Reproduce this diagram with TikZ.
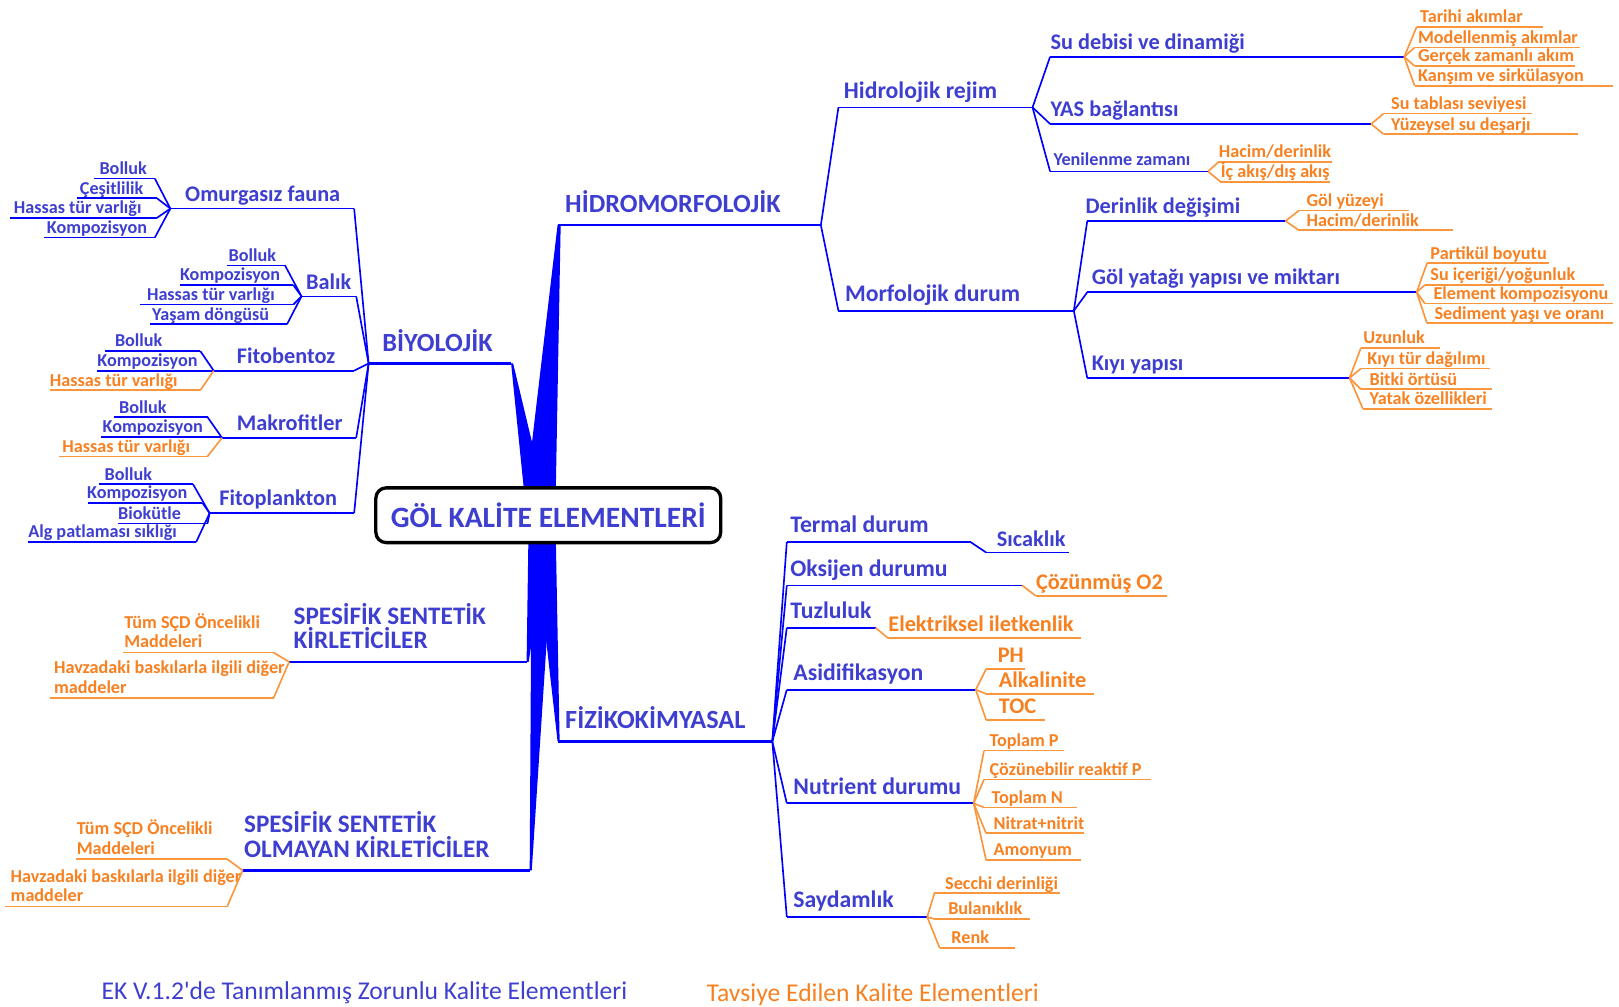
\documentclass[tikz,border=0pt]{standalone}
\usepackage{fontspec}
\setmainfont{Carlito}
\definecolor{bluetext}{RGB}{62,62,208}
\definecolor{blueline}{RGB}{0,0,255}
\definecolor{orangetext}{RGB}{247,128,32}
\definecolor{orangeline}{RGB}{252,150,60}

% topic: name, line style, text style, x1, x2, y, text x, text
\newcommand{\mmtopic}[8]{%
  \coordinate (#1-l) at (#4,#6);
  \coordinate (#1-r) at (#5,#6);
  \draw[#2] (#1-l) -- (#1-r);
  \node[#3,anchor=base west] (#1) at (#7,#6) {#8};
}
% same, text on two lines
\newcommand{\mmtopicii}[8]{%
  \coordinate (#1-l) at (#4,#6);
  \coordinate (#1-r) at (#5,#6);
  \draw[#2] (#1-l) -- (#1-r);
  \node[#3,align=left,anchor=south west] (#1) at (#7,#6) {#8};
}

\begin{document}
\begin{tikzpicture}[x=0.5pt,y=-0.5pt,
  bluelink/.style={draw=blueline,line width=0.8pt},
  mainlink/.style={draw=blueline,line width=1.1pt},
  orangelink/.style={draw=orangeline,line width=0.8pt},
  taper/.style={fill=blueline},
  lvlone/.style={font=\fontsize{12.7}{12}\selectfont\bfseries,text=bluetext,inner sep=0pt,yshift=6pt},
  lvlspec/.style={lvlone,font=\fontsize{12.2}{12}\selectfont\bfseries},
  lvltwo/.style={font=\fontsize{11.5}{12}\selectfont\bfseries,text=bluetext,inner sep=0pt,yshift=4.5pt},
  lvlthree/.style={font=\fontsize{10.8}{12}\selectfont\bfseries,text=bluetext,inner sep=0pt,yshift=3.5pt},
  smallblue/.style={font=\fontsize{8.8}{10}\selectfont\bfseries,text=bluetext,inner sep=0pt,yshift=3pt},
  leafblue/.style={font=\fontsize{8.8}{9.5}\selectfont\bfseries,text=bluetext,inner sep=0pt,yshift=2pt},
  leaforange/.style={leafblue,text=orangetext},
  leafbig/.style={font=\fontsize{10.8}{12}\selectfont\bfseries,text=orangetext,inner sep=0pt,yshift=3pt},
  leafbigblue/.style={leafbig,text=bluetext},
  titlebox/.style={draw=black,line width=1.6pt,fill=white,rounded corners=5pt,
    minimum width=167pt,minimum height=26.5pt,inner sep=0pt,text=bluetext,
    font=\fontsize{14.3}{16}\selectfont\bfseries},
  legend/.style={font=\fontsize{12.4}{14}\selectfont,inner sep=0pt}]
\useasboundingbox (0,0) rectangle (1568,975);

% main branches
\mmtopic{hidro}{mainlink}{lvlone}{540}{795}{218}{547}{HİDROMORFOLOJİK}
\mmtopic{biyo}{mainlink}{lvlone}{357}{495}{352}{370}{BİYOLOJİK}
\mmtopic{fiz}{mainlink}{lvlone}{540}{748}{718}{547}{FİZİKOKİMYASAL}
\mmtopicii{ssk}{mainlink}{lvlspec}{280}{510}{641}{284}{SPESİFİK SENTETİK\\KİRLETİCİLER}
\mmtopicii{sso}{mainlink}{lvlspec}{235}{513}{843}{236}{SPESİFİK SENTETİK\\OLMAYAN KİRLETİCİLER}

\fill[taper] (508,490) -- (hidro-l) -- ++(3,0) -- (538,490) -- cycle;
\fill[taper] (509,490) -- (biyo-r) -- ++(2,0) -- (530,490) -- cycle;
\fill[taper] (516,505) -- (fiz-l) -- ++(2,0) -- (538,505) -- cycle;
\fill[taper] (512,505) -- (ssk-r) -- ++(2,0) -- (534,505) -- cycle;
\fill[taper] (515,505) -- (sso-r) -- ++(2,0) -- (537,505) -- cycle;

\node[titlebox] (root) at (531,499) {GÖL KALİTE ELEMENTLERİ};

% hidromorfolojik
\mmtopic{hreg}{bluelink}{lvltwo}{812}{1000}{104}{817}{Hidrolojik rejim}
\mmtopic{morf}{bluelink}{lvltwo}{812}{1040}{301}{818}{Morfolojik durum}
\draw[bluelink] (hidro-r) -- (hreg-l);
\draw[bluelink] (hidro-r) -- (morf-l);

\mmtopic{debi}{bluelink}{lvlthree}{1017}{1360}{55}{1017}{Su debisi ve dinamiği}
\mmtopic{yas}{bluelink}{lvlthree}{1017}{1328}{120}{1017}{YAS bağlantısı}
\mmtopic{yenil}{bluelink}{smallblue}{1017}{1170}{166}{1020}{Yenilenme zamanı}
\foreach \n in {debi,yas,yenil} \draw[bluelink] (hreg-r) -- (\n-l);

\mmtopic{tarihi}{orangelink}{leaforange}{1372}{1494}{26}{1375}{Tarihi akımlar}
\mmtopic{model}{orangelink}{leaforange}{1370}{1530}{46}{1373}{Modellenmiş akımlar}
\mmtopic{gercek}{orangelink}{leaforange}{1370}{1525}{64}{1373}{Gerçek zamanlı akım}
\mmtopic{karsim}{orangelink}{leaforange}{1370}{1562}{83}{1373}{Kanşım ve sirkülasyon}
\foreach \n in {tarihi,model,gercek,karsim} \draw[orangelink] (debi-r) -- (\n-l);

\mmtopic{sutab}{orangelink}{leaforange}{1340}{1484}{110}{1347}{Su tablası seviyesi}
\mmtopic{yuzey}{orangelink}{leaforange}{1340}{1528}{130}{1347}{Yüzeysel su deşarjı}
\foreach \n in {sutab,yuzey} \draw[orangelink] (yas-r) -- (\n-l);

\mmtopic{hacim}{orangelink}{leaforange}{1180}{1290}{157}{1180}{Hacim/derinlik}
\mmtopic{icakis}{orangelink}{leaforange}{1182}{1288}{176}{1182}{İç akış/dış akış}
\foreach \n in {hacim,icakis} \draw[orangelink] (yenil-r) -- (\n-l);

\mmtopic{derin}{bluelink}{lvlthree}{1053}{1245}{214}{1051}{Derinlik değişimi}
\mmtopic{yatak}{bluelink}{lvlthree}{1053}{1372}{283}{1057}{Göl yatağı yapısı ve miktarı}
\mmtopic{kiyi}{bluelink}{lvlthree}{1053}{1307}{366}{1057}{Kıyı yapısı}
\foreach \n in {derin,yatak,kiyi} \draw[bluelink] (morf-r) -- (\n-l);

\mmtopic{golyuz}{orangelink}{leaforange}{1258}{1365}{204}{1265}{Göl yüzeyi}
\mmtopic{hacimb}{orangelink}{leaforange}{1258}{1407}{223}{1265}{Hacim/derinlik}
\foreach \n in {golyuz,hacimb} \draw[orangelink] (derin-r) -- (\n-l);

\mmtopic{partikul}{orangelink}{leaforange}{1382}{1500}{255}{1385}{Partikül boyutu}
\mmtopic{suicerik}{orangelink}{leaforange}{1380}{1553}{276}{1385}{Su içeriği/yoğunluk}
\mmtopic{element}{orangelink}{leaforange}{1380}{1562}{294}{1388}{Element kompozisyonu}
\mmtopic{sediment}{orangelink}{leaforange}{1382}{1562}{313}{1389}{Sediment yaşı ve oranı}
\foreach \n in {partikul,suicerik,element,sediment} \draw[orangelink] (yatak-r) -- (\n-l);

\mmtopic{uzun}{orangelink}{leaforange}{1318}{1395}{337}{1320}{Uzunluk}
\mmtopic{kiyitur}{orangelink}{leaforange}{1318}{1443}{357}{1324}{Kıyı tür dağılımı}
\mmtopic{bitki}{orangelink}{leaforange}{1318}{1445}{377}{1326}{Bitki örtüsü}
\mmtopic{yatakoz}{orangelink}{leaforange}{1320}{1445}{396}{1326}{Yatak özellikleri}
\foreach \n in {uzun,kiyitur,bitki,yatakoz} \draw[orangelink] (kiyi-r) -- (\n-l);

% biyolojik
\mmtopic{omur}{bluelink}{lvlthree}{165}{343}{202}{179}{Omurgasız fauna}
\mmtopic{balik}{bluelink}{lvlthree}{292}{345}{287}{296}{Balık}
\mmtopic{fitob}{bluelink}{lvlthree}{207}{343}{359}{229}{Fitobentoz}
\mmtopic{makro}{bluelink}{lvlthree}{215}{345}{424}{229}{Makrofitler}
\mmtopic{fitop}{bluelink}{lvlthree}{203}{343}{497}{212}{Fitoplankton}
\foreach \n in {omur,balik,fitob,makro,fitop} \draw[bluelink] (biyo-l) -- (\n-r);

\mmtopic{oa}{bluelink}{leafblue}{91}{150}{173}{96}{Bolluk}
\mmtopic{ob}{bluelink}{leafblue}{75}{152}{192}{77}{Çeşitlilik}
\mmtopic{oc}{bluelink}{leafblue}{10}{152}{211}{13}{Hassas tür varlığı}
\mmtopic{od}{bluelink}{leafblue}{43}{150}{230}{45}{Kompozisyon}
\foreach \n in {oa,ob,oc,od} \draw[bluelink] (\n-r) -- (omur-l);

\mmtopic{ba}{bluelink}{leafblue}{220}{276}{257}{221}{Bolluk}
\mmtopic{bb}{bluelink}{leafblue}{174}{284}{276}{174}{Kompozisyon}
\mmtopic{bc}{bluelink}{leafblue}{136}{284}{295}{142}{Hassas tür varlığı}
\mmtopic{bd}{bluelink}{leafblue}{145}{278}{314}{147}{Yaşam döngüsü}
\foreach \n in {ba,bb,bc,bd} \draw[bluelink] (\n-r) -- (balik-l);

\mmtopic{fa}{bluelink}{leafblue}{102}{194}{340}{111}{Bolluk}
\mmtopic{fb}{bluelink}{leafblue}{94}{207}{359}{94}{Kompozisyon}
\mmtopic{fc}{orangelink}{leaforange}{48}{194}{378}{48}{Hassas tür varlığı}
\draw[bluelink] (fa-r) -- (fitob-l);
\draw[orangelink] (fc-r) -- (fitob-l);

\mmtopic{ma}{bluelink}{leafblue}{110}{201}{404}{115}{Bolluk}
\mmtopic{mb}{bluelink}{leafblue}{98}{215}{423}{99}{Kompozisyon}
\mmtopic{mc}{orangelink}{leaforange}{57}{201}{442}{60}{Hassas tür varlığı}
\draw[bluelink] (ma-r) -- (makro-l);
\draw[orangelink] (mc-r) -- (makro-l);

\mmtopic{pa}{bluelink}{leafblue}{96}{187}{469}{101}{Bolluk}
\mmtopic{pb}{bluelink}{leafblue}{85}{196}{487}{84}{Kompozisyon}
\mmtopic{pc}{bluelink}{leafblue}{114}{201}{507}{114}{Biokütle}
\mmtopic{pd}{bluelink}{leafblue}{27}{190}{525}{27}{Alg patlaması sıklığı}
\foreach \n in {pa,pb,pc,pd} \draw[bluelink] (\n-r) -- (fitop-l);

% spesifik sentetik
\mmtopicii{ska}{orangelink}{leaforange}{119}{265}{632}{120}{Tüm SÇD Öncelikli\\Maddeleri}
\mmtopicii{skb}{orangelink}{leaforange}{48}{265}{676}{52}{Havzadaki baskılarla ilgili diğer\\maddeler}
\foreach \n in {ska,skb} \draw[orangelink] (\n-r) -- (ssk-l);

\mmtopicii{soa}{orangelink}{leaforange}{74}{220}{832}{74}{Tüm SÇD Öncelikli\\Maddeleri}
\mmtopicii{sob}{orangelink}{leaforange}{5}{220}{878}{10}{Havzadaki baskılarla ilgili diğer\\maddeler}
\foreach \n in {soa,sob} \draw[orangelink] (\n-r) -- (sso-l);

% fizikokimyasal
\mmtopic{termal}{bluelink}{lvltwo}{762}{940}{525}{765}{Termal durum}
\mmtopic{oksi}{bluelink}{lvltwo}{762}{990}{567}{765}{Oksijen durumu}
\mmtopic{tuz}{bluelink}{lvltwo}{762}{848}{608}{765}{Tuzluluk}
\mmtopic{asid}{bluelink}{lvltwo}{762}{945}{668}{768}{Asidifikasyon}
\mmtopic{nutr}{bluelink}{lvltwo}{762}{943}{778}{768}{Nutrient durumu}
\mmtopic{sayd}{bluelink}{lvltwo}{762}{898}{888}{768}{Saydamlık}
\foreach \n in {termal,oksi,tuz,asid,nutr,sayd} \draw[bluelink] (fiz-r) -- (\n-l);

\mmtopic{sicak}{bluelink}{leafbigblue}{955}{1035}{535}{965}{Sıcaklık}
\draw[bluelink] (termal-r) -- (sicak-l);
\mmtopic{cozun}{orangelink}{leafbig}{1003}{1130}{577}{1003}{Çözünmüş O2}
\draw[orangelink] (oksi-r) -- (cozun-l);
\mmtopic{elek}{orangelink}{leafbig}{860}{1047}{618}{860}{Elektriksel iletkenlik}
\draw[orangelink] (tuz-r) -- (elek-l);

\mmtopic{ph}{orangelink}{leafbig}{955}{993}{648}{966}{PH}
\mmtopic{alk}{orangelink}{leafbig}{955}{1060}{672}{967}{Alkalinite}
\mmtopic{toc}{orangelink}{leafbig}{955}{1012}{697}{967}{TOC}
\foreach \n in {ph,alk,toc} \draw[orangelink] (asid-r) -- (\n-l);

\mmtopic{tp}{orangelink}{leaforange}{953}{1030}{727}{958}{Toplam P}
\mmtopic{crp}{orangelink}{leaforange}{953}{1115}{755}{958}{Çözünebilir reaktif P}
\mmtopic{tn}{orangelink}{leaforange}{953}{1043}{782}{960}{Toplam N}
\mmtopic{nn}{orangelink}{leaforange}{955}{1050}{807}{962}{Nitrat+nitrit}
\mmtopic{amon}{orangelink}{leaforange}{955}{1047}{833}{962}{Amonyum}
\foreach \n in {tp,crp,tn,nn,amon} \draw[orangelink] (nutr-r) -- (\n-l);

\mmtopic{secchi}{orangelink}{leaforange}{905}{1027}{865}{915}{Secchi derinliği}
\mmtopic{bulan}{orangelink}{leaforange}{905}{998}{890}{918}{Bulanıklık}
\mmtopic{renk}{orangelink}{leaforange}{910}{983}{918}{921}{Renk}
\foreach \n in {secchi,bulan,renk} \draw[orangelink] (sayd-r) -- (\n-l);

% legend
\node[legend,text=bluetext,anchor=base west] (legblue) at (98,968) {EK V.1.2\textquotesingle de Tanımlanmış Zorunlu Kalite Elementleri};
\node[legend,text=orangetext,anchor=base west] (legorange) at (684,970) {Tavsiye Edilen Kalite Elementleri};
\end{tikzpicture}
\end{document}
